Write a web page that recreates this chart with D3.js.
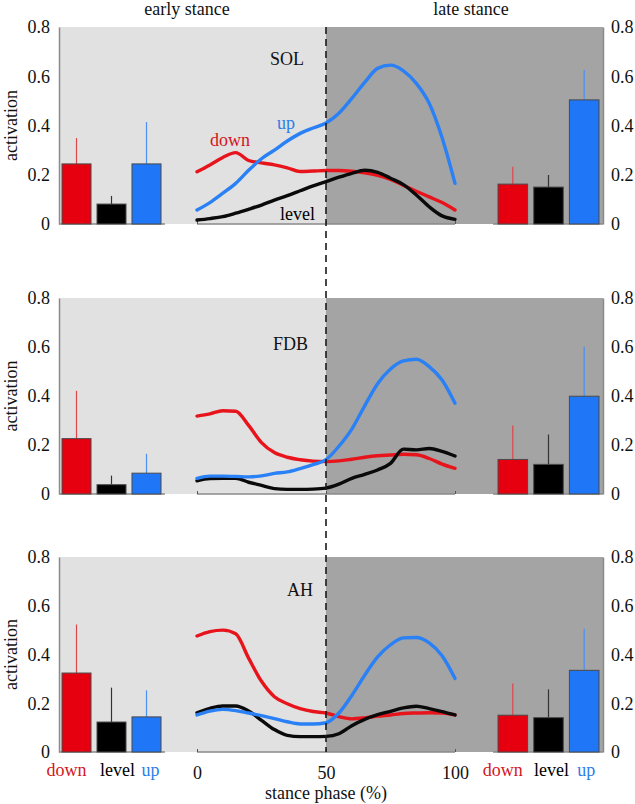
<!DOCTYPE html>
<html><head><meta charset="utf-8">
<script src="https://cdn.jsdelivr.net/npm/d3@7"></script>
<style>body{margin:0;background:#fff}svg{display:block}</style>
</head><body>
<script>
// ---------- data ----------
const muscles = ["SOL", "FDB", "AH"];
const conditions = ["down", "level", "up"];
const phase = [0,5,10,15,20,25,30,35,40,45,50,55,60,65,70,75,80,85,90,95,100];
const yTicks = [0, 0.2, 0.4, 0.6, 0.8];
const xTicks = [0, 50, 100];

const solDown  = [.212,.24,.27,.29,.258,.248,.24,.228,.213,.215,.217,.217,.214,.208,.198,.181,.157,.133,.11,.087,.057];
const solLevel = [.016,.022,.03,.044,.06,.077,.097,.115,.135,.155,.172,.19,.206,.218,.21,.186,.16,.118,.07,.033,.019];
const solUp    = [.057,.087,.125,.165,.218,.265,.30,.337,.368,.39,.41,.45,.51,.575,.632,.645,.622,.571,.49,.35,.165];

const fdbDown  = [.318,.327,.34,.338,.28,.21,.169,.15,.14,.134,.132,.135,.142,.15,.156,.159,.162,.16,.145,.122,.105];
const fdbLevel = [.054,.063,.064,.064,.048,.035,.022,.019,.019,.02,.024,.04,.064,.08,.098,.125,.183,.18,.186,.174,.155];
const fdbUp    = [.064,.073,.073,.072,.07,.074,.084,.09,.104,.12,.14,.195,.265,.36,.45,.51,.543,.55,.52,.465,.37];

const ahDown   = [.476,.494,.5,.485,.385,.29,.227,.198,.178,.166,.16,.145,.136,.14,.147,.152,.158,.16,.161,.16,.152];
const ahLevel  = [.161,.179,.189,.189,.168,.13,.092,.068,.063,.063,.064,.075,.108,.134,.153,.167,.181,.188,.178,.166,.152];
const ahUp     = [.152,.168,.175,.17,.16,.149,.137,.124,.115,.115,.12,.16,.232,.315,.39,.44,.468,.47,.448,.395,.302];

// bar means and error-bar tops, per muscle [SOL, FDB, AH]
const earlyDownMean  = [.244,.226,.324], earlyDownErr  = [.349,.421,.523];
const earlyLevelMean = [.081,.038,.123], earlyLevelErr = [.114,.075,.264];
const earlyUpMean    = [.244,.085,.144], earlyUpErr    = [.414,.164,.253];
const lateDownMean   = [.162,.141,.151], lateDownErr   = [.232,.280,.281];
const lateLevelMean  = [.150,.121,.141], lateLevelErr  = [.199,.243,.257];
const lateUpMean     = [.504,.399,.335], lateUpErr     = [.625,.601,.506];

// ---------- layout ----------
const W = 635, H = 804;
const FONT = '"Liberation Serif", "Times New Roman", serif';
const panels = [{top:27,bottom:224},{top:298,bottom:494},{top:557,bottom:752}];
const colors = {down:"#e6000f", level:"#000000", up:"#1f76f7"};
const lineColors = {down:"#e8141c", level:"#0a0a0a", up:"#2a80f5"};
const errColors = {down:"#e0454a", level:"#333333", up:"#4a90f0"};
const textColors = {down:"#d4141c", level:"#000", up:"#2b7de9"};
const fs = 18;

const svg = d3.select("body").append("svg").attr("width", W).attr("height", H)
  .attr("font-family", FONT).style("font-family", FONT);

const x = d3.scaleLinear().domain([0,100]).range([197,455]);
const xEarly = d3.scaleBand().domain(conditions).range([62,161]).paddingInner(0.171).paddingOuter(0);
const xLate  = d3.scaleBand().domain(conditions).range([498,599]).paddingInner(0.171).paddingOuter(0);
const leftEdge = 59, midX = x(50), rightEdge = 603;

const series = {
  SOL:{down:solDown, level:solLevel, up:solUp},
  FDB:{down:fdbDown, level:fdbLevel, up:fdbUp},
  AH:{down:ahDown, level:ahLevel, up:ahUp}
};
const bars = {
  early:{down:[earlyDownMean,earlyDownErr], level:[earlyLevelMean,earlyLevelErr], up:[earlyUpMean,earlyUpErr]},
  late:{down:[lateDownMean,lateDownErr], level:[lateLevelMean,lateLevelErr], up:[lateUpMean,lateUpErr]}
};
const nameAt = [[28.3,0.646],[29.5,0.588],[34.9,0.64]];
const seriesLabels = [{c:"down",p:5,v:0.317},{c:"up",p:31,v:0.386},{c:"level",p:32.2,v:0.016}];

function txt(sel) {
  return sel.attr("font-family", FONT).style("font-family", FONT).attr("font-size", fs);
}

panels.forEach((pn, i) => {
  const m = muscles[i];
  const y = d3.scaleLinear().domain([0,0.8]).range([pn.bottom, pn.top]);
  const g = svg.append("g");
  g.append("rect").attr("x", leftEdge).attr("y", pn.top).attr("width", midX - leftEdge).attr("height", pn.bottom - pn.top).attr("fill", "#e1e1e1");
  g.append("rect").attr("x", midX).attr("y", pn.top).attr("width", rightEdge - midX).attr("height", pn.bottom - pn.top).attr("fill", "#a4a4a4");

  [[leftEdge,165],[x(0),x(100)],[493,rightEdge]].forEach(s => {
    g.append("line").attr("x1", s[0]).attr("x2", s[1]).attr("y1", pn.bottom).attr("y2", pn.bottom).attr("stroke", "#8a8a8a").attr("stroke-width", 1.5);
  });

  const fmt = d => d === 0 ? "0" : d3.format(".1f")(d);
  const ga = g.append("g").attr("transform", `translate(${leftEdge},0)`)
    .call(d3.axisLeft(y).tickValues(yTicks).tickFormat(fmt).tickSize(0).tickPadding(9));
  ga.attr("font-family", FONT).attr("font-size", fs);
  ga.select(".domain").attr("stroke", "#8a8a8a").attr("stroke-width", 1.5);
  txt(ga.selectAll("text")).attr("fill", "#111");

  const gr = g.append("g").attr("transform", `translate(${rightEdge},0)`)
    .call(d3.axisRight(y).tickValues(yTicks).tickFormat(fmt).tickSize(0).tickPadding(8));
  gr.attr("font-family", FONT).attr("font-size", fs);
  gr.select(".domain").attr("stroke", "#8a8a8a").attr("stroke-width", 1.5);
  txt(gr.selectAll("text")).attr("fill", "#111");

  const gx = g.append("g").attr("transform", `translate(0,${pn.bottom})`)
    .call(d3.axisBottom(x).tickValues(xTicks).tickSize(-3).tickFormat(i === 2 ? d3.format("d") : "").tickPadding(14));
  gx.attr("font-family", FONT).attr("font-size", fs);
  gx.select(".domain").remove();
  gx.selectAll("line").attr("stroke", "#555");
  txt(gx.selectAll("text")).attr("fill", "#111").attr("dy", "0.71em");

  txt(g.append("text")).attr("transform", `translate(17,${(pn.top + pn.bottom) / 2}) rotate(-90)`)
    .attr("text-anchor", "middle").attr("fill", "#111").text("activation");

  [["early", xEarly], ["late", xLate]].forEach(([phaseKey, xb]) => {
    conditions.forEach(c => {
      const mean = bars[phaseKey][c][0][i], err = bars[phaseKey][c][1][i];
      const cx = xb(c) + xb.bandwidth() / 2;
      g.append("line").attr("x1", cx).attr("x2", cx).attr("y1", y(mean)).attr("y2", y(err))
        .attr("stroke", errColors[c]).attr("stroke-width", 1.2);
      g.append("rect").attr("x", xb(c)).attr("y", y(mean)).attr("width", xb.bandwidth()).attr("height", y(0) - y(mean))
        .attr("fill", colors[c]).attr("stroke", "#4a4a4a").attr("stroke-width", 1);
    });
  });

  const line = d3.line().x((d, k) => x(phase[k])).y(d => y(d)).curve(d3.curveMonotoneX);
  ["down", "level", "up"].forEach(c => {
    g.append("path").attr("d", line(series[m][c])).attr("fill", "none")
      .attr("stroke", lineColors[c]).attr("stroke-width", 3.4).attr("stroke-linejoin", "round").attr("stroke-linecap", "round");
  });

  txt(g.append("text")).attr("x", x(nameAt[i][0])).attr("y", y(nameAt[i][1])).attr("fill", "#111").text(m);

  if (i === 0) {
    seriesLabels.forEach(s => {
      txt(g.append("text")).attr("x", x(s.p)).attr("y", y(s.v)).attr("fill", textColors[s.c]).text(s.c);
    });
  }
  if (i === 2) {
    const offsEarly = {down:-10, level:6, up:4};
    const offsLate = {down:-10, level:3, up:2};
    conditions.forEach(c => {
      txt(g.append("text")).attr("x", xEarly(c) + xEarly.bandwidth() / 2 + offsEarly[c]).attr("y", 776)
        .attr("text-anchor", "middle").attr("fill", textColors[c]).text(c);
      txt(g.append("text")).attr("x", xLate(c) + xLate.bandwidth() / 2 + offsLate[c]).attr("y", 776)
        .attr("text-anchor", "middle").attr("fill", textColors[c]).text(c);
    });
  }
});

svg.append("line").attr("x1", midX).attr("x2", midX).attr("y1", panels[0].top).attr("y2", panels[2].bottom)
  .attr("stroke", "#1a1a1a").attr("stroke-width", 1.6).attr("stroke-dasharray", "7,5");

txt(svg.append("text")).attr("x", 187).attr("y", 15).attr("text-anchor", "middle").attr("fill", "#111").text("early stance");
txt(svg.append("text")).attr("x", 471).attr("y", 15).attr("text-anchor", "middle").attr("fill", "#111").text("late stance");
txt(svg.append("text")).attr("x", x(50)).attr("y", 799).attr("text-anchor", "middle").attr("fill", "#111").text("stance phase (%)");
</script>
</body></html>
